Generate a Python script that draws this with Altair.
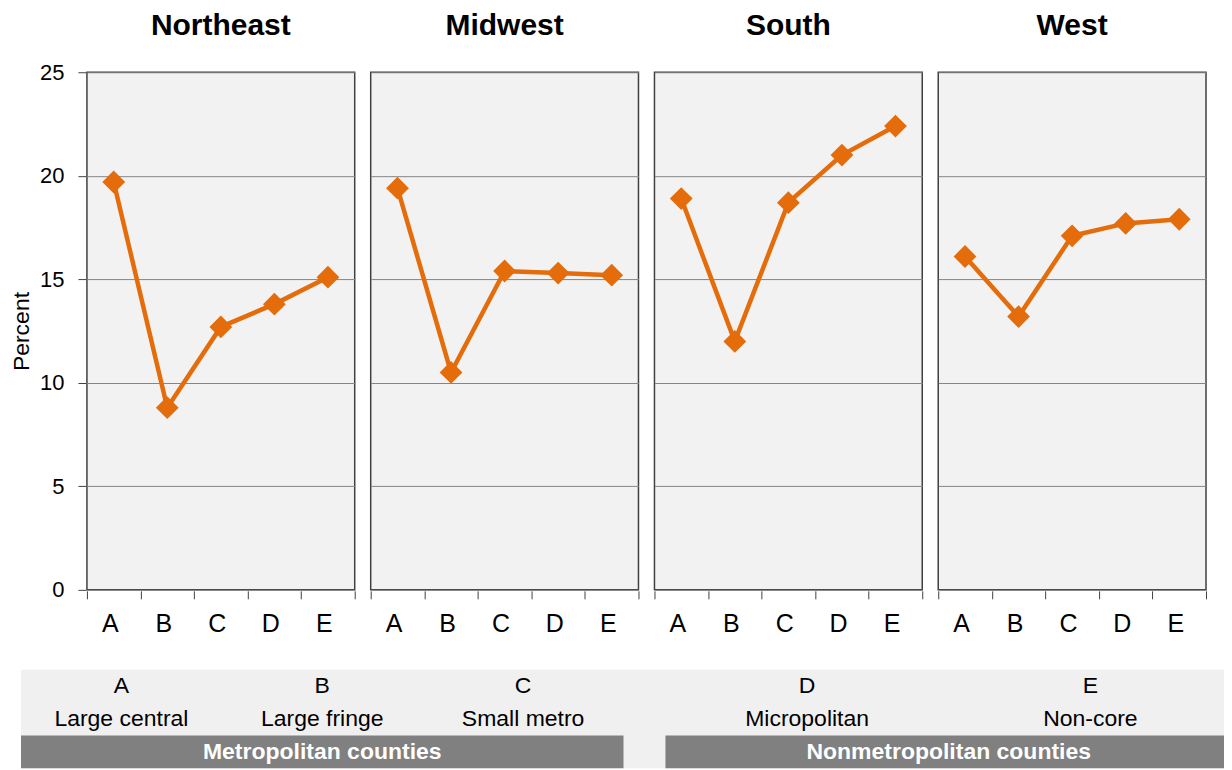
import altair as alt
import pandas as pd

# ---- data ----
regions = ["Northeast", "Midwest", "South", "West"]
categories = ["A", "B", "C", "D", "E"]
northeast = [19.7, 8.8, 12.7, 13.8, 15.1]
midwest = [19.4, 10.5, 15.4, 15.3, 15.2]
south = [18.9, 12.0, 18.7, 21.0, 22.4]
west = [16.1, 13.2, 17.1, 17.7, 17.9]
series = {"Northeast": northeast, "Midwest": midwest, "South": south, "West": west}
y_ticks = [0, 5, 10, 15, 20, 25]

legend_letters = ["A", "B", "C", "D", "E"]
legend_names = ["Large central", "Large fringe", "Small metro", "Micropolitan", "Non-core"]
legend_groups = ["Metropolitan counties", "Metropolitan counties", "Metropolitan counties",
                 "Nonmetropolitan counties", "Nonmetropolitan counties"]

# ---- layout (not data) ----
FONT = "Liberation Sans"
ORANGE = "#E46C0A"
PANEL_W, PANEL_H = 268, 518
LEGEND_LEFT_SHIFT = 66      # legend starts this far left of the first plot area
LEGEND_W, LEGEND_H = 1138, 92
group_spans = {"Metropolitan counties": (0, 603), "Nonmetropolitan counties": (645, 1212)}
VISIBLE_END = LEGEND_LEFT_SHIFT + LEGEND_W
row_bounds = {"letter": (0, 1), "name": (1, 2), "group": (2, 3)}
ROW_DOMAIN = [0, 2.8]

frames = []
for r in regions:
    frames.append(pd.DataFrame({"region": r, "cat": categories, "pct": series[r]}))
df = pd.concat(frames, ignore_index=True)

x = alt.X("cat:N", sort=categories,
          scale=alt.Scale(type="band", paddingInner=0, paddingOuter=0),
          axis=alt.Axis(title=None, labelAngle=0, tickBand="extent", tickSize=8,
                        tickColor="#404040", domain=False, labelFontSize=25,
                        labelFont=FONT, labelColor="black", labelPadding=13,
                        labelOffset=-4, grid=False))
y = alt.Y("pct:Q", scale=alt.Scale(domain=[0, 25], nice=False),
          axis=alt.Axis(title="Percent", values=y_ticks, tickSize=8,
                        tickColor="#404040", domain=False, labelFontSize=22,
                        labelFont=FONT, labelColor="black", labelPadding=14,
                        titleFont=FONT, titleFontSize=23, titleFontWeight="normal",
                        titleColor="black", titlePadding=6,
                        grid=True, gridColor="#858585", gridWidth=1))
base = alt.Chart().encode(x=x, y=y)
line = base.mark_line(color=ORANGE, strokeWidth=4.5)
pts = base.mark_point(shape="diamond", filled=True, color=ORANGE, size=520, opacity=1)

panels = alt.layer(line, pts, data=df).properties(
    width=PANEL_W, height=PANEL_H,
    view=alt.ViewBackground(fill="#f2f2f2", stroke="#404040", strokeWidth=1.5),
).facet(
    column=alt.Column("region:N", sort=regions, title=None,
                      header=alt.Header(labelFontSize=30, labelFontWeight="bold",
                                        labelFont=FONT, labelColor="black",
                                        labelPadding=30, labelOrient="top")),
    spacing=14,
)

# ---- legend table ----
leg_rows = []
for g, (x0, x1) in group_spans.items():
    members = [i for i, gg in enumerate(legend_groups) if gg == g]
    step = (x1 - x0) / len(members)
    for k, i in enumerate(members):
        leg_rows.append({"letter": legend_letters[i], "name": legend_names[i],
                         "xc": x0 + step * (k + 0.5)})
leg_df = pd.DataFrame(leg_rows)
leg_df["ly"] = sum(row_bounds["letter"]) / 2
leg_df["ny"] = sum(row_bounds["name"]) / 2

grp_df = pd.DataFrame([{"group": g, "x0": a, "x1": min(b, VISIBLE_END),
                        "xc": (a + b) / 2,
                        "y0": row_bounds["group"][0], "y1": row_bounds["group"][1],
                        "ym": sum(row_bounds["group"]) / 2}
                       for g, (a, b) in group_spans.items()])
back_df = pd.DataFrame([{"x0": 0, "x1": VISIBLE_END,
                         "y0": row_bounds["letter"][0], "y1": row_bounds["group"][1]}])

xs = alt.Scale(domain=[LEGEND_LEFT_SHIFT, VISIBLE_END], nice=False, zero=False)
ys = alt.Scale(domain=ROW_DOMAIN, nice=False, zero=False, reverse=True)

back = alt.Chart(back_df).mark_rect(color="#f0f0f0").encode(
    x=alt.X("x0:Q", scale=xs, axis=None), x2="x1:Q",
    y=alt.Y("y0:Q", scale=ys, axis=None), y2="y1:Q")
dark = alt.Chart(grp_df).mark_rect(color="#808080").encode(
    x=alt.X("x0:Q", scale=xs, axis=None), x2="x1:Q",
    y=alt.Y("y0:Q", scale=ys, axis=None), y2="y1:Q")
grp_txt = alt.Chart(grp_df).mark_text(color="white", font=FONT, fontSize=23,
                                      fontWeight="bold").encode(
    x=alt.X("xc:Q", scale=xs, axis=None),
    y=alt.Y("ym:Q", scale=ys, axis=None), text="group:N")
let_txt = alt.Chart(leg_df).mark_text(color="black", font=FONT, fontSize=23).encode(
    x=alt.X("xc:Q", scale=xs, axis=None),
    y=alt.Y("ly:Q", scale=ys, axis=None), text="letter:N")
name_txt = alt.Chart(leg_df).mark_text(color="black", font=FONT, fontSize=23).encode(
    x=alt.X("xc:Q", scale=xs, axis=None),
    y=alt.Y("ny:Q", scale=ys, axis=None), text="name:N")

legend = alt.layer(back, dark, grp_txt, let_txt, name_txt).properties(
    width=LEGEND_W, height=LEGEND_H,
    view=alt.ViewBackground(fill=None, stroke=None))

chart = alt.vconcat(panels, legend, spacing=33).properties(
    padding={"left": 2, "top": 3, "right": 0, "bottom": 0}
).configure_view(stroke=None).configure(background="white")

chart.save("out.html", embed_options={"renderer": "svg", "actions": False})
